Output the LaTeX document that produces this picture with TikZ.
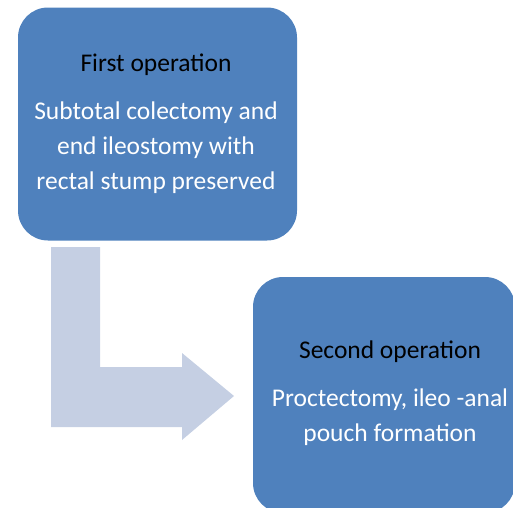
\documentclass[tikz,border=0pt]{standalone}
\usepackage{fontspec}
\setmainfont{Carlito}
\usepackage{tikz}
\usetikzlibrary{positioning}
\definecolor{opblue}{HTML}{4F81BD}
\definecolor{arrowgrey}{HTML}{C5CFE3}
\tikzset{
    opbox/.style={fill=opblue, rounded corners=30pt, inner sep=0pt},
    optitle/.style={text=black, font=\fontsize{25.5}{35}\selectfont, align=center},
    optext/.style={text=white, font=\fontsize{25.5}{35}\selectfont, align=center}
}

\begin{document}
\begin{tikzpicture}[x=1pt, y=-1pt]
        \useasboundingbox (0, 0) rectangle (513, 507);

        % Boxes
        \node[opbox, minimum width=279pt, minimum height=233pt] (first) at (157.5, 124) {};
        \node[opbox, minimum width=262pt, minimum height=236pt] (second) at (384, 395) {};

        % Texts
        \node[optitle] (firsttitle) at (156, 65) {First operation};
        \node[optext, below=19pt of firsttitle] (firstbody) {Subtotal colectomy and\\end ileostomy with\\rectal stump preserved};
        \node[optitle] (secondtitle) at (390, 352) {Second operation};
        \node[optext, below=19pt of secondtitle] (secondbody) {Proctectomy, ileo -anal\\pouch formation};

        % Bent arrow
        \fill[arrowgrey] (51, 247) -- (100, 247) -- (100, 367) -- (182, 367) -- (182, 353)
            -- (234, 396) -- (182, 440) -- (182, 427) -- (51, 427) -- cycle;
    \end{tikzpicture}
\end{document}
